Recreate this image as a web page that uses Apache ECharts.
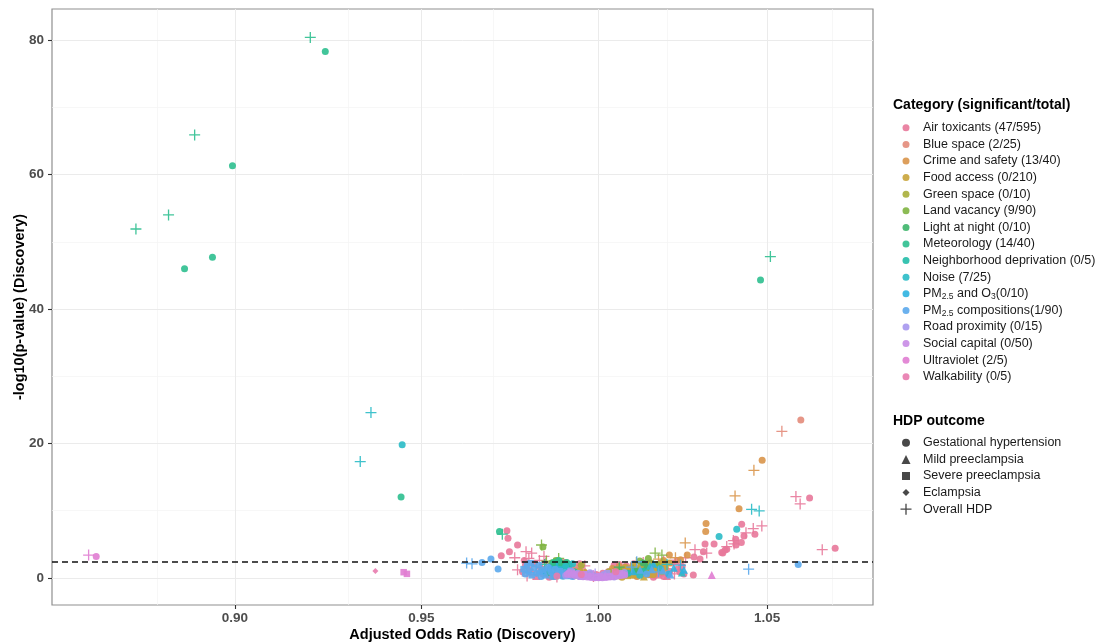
<!DOCTYPE html>
<html><head><meta charset="utf-8">
<script src="https://cdn.jsdelivr.net/npm/echarts@6/dist/echarts.min.js"></script>
<style>html,body{margin:0;padding:0;background:#fff}#c{width:1099px;height:642px}</style>
</head><body><div id="c"></div>
<script>
// ---- Data (x = adjusted OR, y = -log10 p, shape index into outcomes) ----
const categories = ['Air toxicants (47/595)','Blue space (2/25)','Crime and safety (13/40)','Food access (0/210)','Green space (0/10)','Land vacancy (9/90)','Light at night (0/10)','Meteorology (14/40)','Neighborhood deprivation (0/5)','Noise (7/25)','PM2.5 and O3(0/10)','PM2.5 compositions(1/90)','Road proximity (0/15)','Social capital (0/50)','Ultraviolet (2/5)','Walkability (0/5)'];
const colors = ['#E8789A','#E38B7A','#D9954A','#C9A43A','#A9AE3A','#7FB441','#3DB56A','#2DBF8F','#22BDA8','#2ABBC6','#2EB3E0','#5BA8EC','#A697EE','#C88BE6','#E07DD2','#E87BAE'];
const outcomes = ['Gestational hypertension','Mild preeclampsia','Severe preeclampsia','Eclampsia','Overall HDP'];
const xTicks = [0.90, 0.95, 1.00, 1.05];
const yTicks = [0, 20, 40, 60, 80];
const xMinorGrid = [0.875, 0.925, 0.975, 1.025, 1.075];
const yMinorGrid = [10, 30, 50, 70];
const threshold = 2.35;

const airToxicants = [
 [0.9738,7.0,0],[0.9741,5.9,0],[0.9768,4.9,0],[0.9745,3.9,0],[0.9722,3.3,0],[0.9792,3.9,4],[0.9808,3.7,4],[0.9843,3.2,4],[0.9760,3.0,4],[0.9787,2.6,0],
 [1.0313,5.06,0],[1.0340,5.06,0],[1.0378,4.27,0],[1.0406,4.9,0],[1.0366,3.7,0],[1.0308,3.9,0],[1.0280,3.1,0],[1.0298,2.8,0],[1.0283,4.2,4],[1.0318,3.7,4],[1.0398,5.55,4],
 [1.0423,8.0,0],[1.0405,5.76,0],[1.0430,6.25,0],[1.0463,6.5,0],[1.0422,5.25,0],[1.0484,7.74,4],[1.0458,7.34,4],[1.0436,6.7,4],[1.0400,5.06,4],[1.0378,4.66,4],[1.0373,4.17,0],[1.0363,3.77,0],
 [1.0588,12.1,4],[1.0601,11.0,4],[1.0630,11.9,0],[1.0669,4.2,4],[1.0709,4.4,0],
 [1.0230,2.6,0],[1.0255,3.0,4],[1.0190,2.5,4],[0.9830,2.6,4],[0.9800,2.9,4],[0.9768,1.2,4],[1.0278,0.45,0],
 [0.9790,1.8,0],[0.9802,1.2,0],[0.9815,2.1,0],[0.9821,0.9,4],[0.9833,1.5,0],[0.9840,0.6,0],[0.9848,2.2,4],[0.9855,1.1,0],[0.9862,0.4,1],[0.9870,1.7,0],
 [0.9876,0.8,0],[0.9884,2.0,0],[0.9890,1.3,4],[0.9897,0.5,0],[0.9903,1.0,0],[0.9910,1.9,4],[0.9915,0.7,1],[0.9922,1.4,0],[0.9928,0.3,0],[0.9935,1.1,0],
 [0.9941,0.6,4],[0.9948,1.6,0],[0.9955,0.4,0],[0.9962,0.9,1],[0.9970,0.3,0],[0.9978,0.6,0],[0.9985,0.2,4],[0.9993,0.5,0],[1.0005,0.3,0],[1.0012,0.7,0],
 [1.0020,0.4,1],[1.0028,0.9,0],[1.0035,0.5,4],[1.0043,1.2,0],[1.0050,0.7,0],[1.0058,1.5,0],[1.0065,0.4,0],[1.0072,1.0,4],[1.0080,1.8,0],[1.0088,0.6,0],
 [1.0095,1.3,1],[1.0102,2.1,0],[1.0110,0.9,0],[1.0118,1.6,4],[1.0125,0.5,0],[1.0133,1.2,0],[1.0140,2.0,0],[1.0148,0.8,4],[1.0155,1.5,0],[1.0163,0.4,0],
 [1.0170,1.1,0],[1.0178,1.9,4],[1.0185,0.7,0],[1.0193,1.4,0],[1.0200,0.3,1],[1.0208,1.0,0],[1.0215,2.2,0],[1.0222,0.6,4],[1.0230,1.3,0],[1.0238,0.9,0],
 [1.0245,1.7,0],[0.9858,0.1,0],[0.9880,0.15,4],[1.0160,0.1,0],[1.0190,0.2,0],[0.9822,0.3,1],[0.9812,0.5,4],[0.9900,2.3,0],[1.0130,2.3,4],[1.0060,2.0,0],
 [0.9945,2.1,0],[0.9960,1.8,4],[1.0045,1.9,0],[0.9782,0.9,0],[0.9795,0.3,4],[1.0250,0.6,0],[1.0235,2.0,4],[0.9870,0.2,0],[1.0175,0.5,1]
];
const blueSpace = [[1.0603,23.5,0],[1.0545,21.8,4],[0.9870,0.9,0],[1.0090,1.4,0],[1.0150,0.5,0],[0.9930,1.6,0],[1.0180,1.7,1],[0.9840,1.3,0],[1.0060,0.9,4],[1.0110,0.3,0]];
const crimeSafety = [
 [1.0485,17.5,0],[1.0460,16.0,4],[1.0403,12.2,4],[1.0415,10.3,0],[1.0316,8.1,0],[1.0315,6.9,0],[1.0254,5.2,4],[1.0207,3.4,0],[1.0225,3.0,4],[1.0240,2.7,0],[1.0190,2.6,0],[1.0260,3.4,0],[1.0175,2.8,4],
 [1.0050,0.8,0],[1.0070,1.2,1],[1.0082,1.4,1],[1.0090,0.5,0],[1.0105,1.5,1],[1.0120,0.9,0],[1.0135,1.9,0],[1.0060,1.7,0],[1.0148,0.6,1],[1.0165,1.2,0],[1.0040,1.4,0],[1.0112,0.2,0],[1.0128,2.2,1],[1.0155,1.8,0]
];
const foodAccess = [
 [1.0035,0.6,0],[1.0045,1.0,0],[1.0055,0.4,1],[1.0062,1.3,0],[1.0070,0.7,0],[1.0078,1.6,0],[1.0085,0.3,2],[1.0092,1.1,0],[1.0100,1.9,0],[1.0108,0.6,1],
 [1.0115,1.4,0],[1.0123,2.1,0],[1.0130,0.8,0],[1.0138,1.7,4],[1.0145,1.1,0],[1.0153,2.2,0],[1.0160,0.5,0],[1.0168,1.5,1],[1.0176,2.0,0],[1.0185,0.9,0],
 [1.0195,1.6,0],[1.0207,2.2,0],[0.9960,0.8,0],[0.9945,1.0,0],[1.0040,0.2,0],[1.0068,0.1,0],[1.0098,0.4,0],[1.0132,0.2,1],[1.0110,2.3,4],[1.0188,2.3,0]
];
const greenSpace = [[0.9890,1.8,0],[0.9905,2.2,0],[1.0120,1.2,0],[0.9875,0.7,0],[1.0030,0.9,0],[0.9915,1.3,1],[1.0150,2.2,0],[0.9860,1.1,4],[1.0080,0.5,0],[0.9950,1.9,0]];
const landVacancy = [
 [0.9836,4.9,4],[0.9840,4.6,0],[1.0165,3.7,4],[1.0185,3.4,4],[1.0145,2.9,0],[0.9878,2.6,0],[0.9885,2.9,4],[1.0120,2.5,0],[0.9850,2.5,4],
 [0.9880,1.7,0],[0.9900,0.9,0],[1.0100,1.5,1],[1.0140,1.0,0],[0.9865,2.2,0],[1.0060,1.1,0],[1.0170,2.0,0],[0.9920,0.4,0]
];
const lightAtNight = [[0.9875,2.2,0],[0.9890,2.3,0],[0.9900,1.4,0],[1.0130,2.2,0],[1.0140,1.9,1],[0.9860,0.9,0],[1.0110,1.0,0],[0.9930,0.7,0],[1.0060,1.6,4],[0.9915,2.0,0]];
const meteorology = [
 [0.8746,51.9,4],[0.8829,54.0,4],[0.8896,65.9,4],[0.8870,46.0,0],[0.8942,47.7,0],[0.8994,61.3,0],[0.9199,80.4,4],[0.9239,78.3,0],
 [1.0510,47.8,4],[1.0480,44.3,0],[0.9444,12.05,0],[0.9717,6.9,0],[0.9725,6.5,4],[0.9885,2.6,0],
 [0.9870,2.3,0],[0.9895,1.5,0],[0.9905,0.6,1],[0.9880,1.0,1],[0.9912,1.9,0],[0.9860,1.8,1],[0.9898,0.3,0],[0.9920,1.2,1],[0.9850,0.7,0],[0.9890,2.1,4],
 [0.9930,0.9,0],[0.9875,0.4,1],[0.9865,1.4,0],[0.9908,2.3,0],[0.9935,0.5,1],[0.9845,2.0,4],[0.9900,1.1,2],[0.9880,0.7,1]
];
const neighborhood = [[0.9893,1.3,0],[0.9915,0.8,0],[1.0085,0.7,0],[0.9880,1.9,1],[1.0130,1.0,0]];
const noise = [
 [0.9362,24.6,4],[0.9333,17.3,4],[0.9447,19.8,0],[1.0453,10.2,4],[1.0476,9.97,4],[1.0408,7.25,0],[1.0355,6.15,0],
 [0.9885,1.2,0],[0.9905,1.7,0],[1.0150,1.8,1],[1.0180,1.4,0],[1.0244,0.8,1],[0.9870,0.6,0],[1.0120,0.4,0],[1.0200,2.0,4],[0.9925,2.1,0]
];
const pmO3 = [[0.9860,1.4,0],[0.9910,0.5,0],[1.0100,1.0,1],[1.0160,2.1,1],[1.0220,1.5,1],[0.9840,0.9,0],[1.0205,0.6,0],[1.0240,1.9,4],[1.0250,1.2,1],[0.9880,1.6,4]];
const pmComp = [
 [0.9625,2.2,4],[0.9640,2.1,4],[0.9668,2.3,0],[0.9693,2.8,0],[0.9713,1.34,0],
 [0.9795,1.9,0],[0.9800,1.0,0],[0.9808,0.4,2],[0.9815,1.5,0],[0.9822,0.7,0],[0.9828,1.9,2],[0.9835,0.2,0],[0.9842,1.2,0],[0.9848,0.5,1],[0.9855,1.6,0],
 [0.9862,0.9,0],[0.9868,0.2,2],[0.9875,1.3,0],[0.9882,0.6,0],[0.9888,1.0,2],[0.9895,0.3,0],[0.9902,0.8,0],[0.9910,0.4,1],[0.9918,1.1,0],[0.9925,0.2,0],
 [0.9805,2.2,2],[0.9790,0.6,0],[0.9785,1.3,2],[0.9830,1.1,1],
 [1.0111,2.4,4],[1.0121,1.2,1],[1.0155,1.3,1],[1.0188,1.1,1],[1.0140,0.6,0],[1.0175,0.9,4],[1.0210,0.5,1],[1.0096,1.6,4],
 [1.0595,2.0,0],[1.0444,1.3,4]
];
const roadProximity = [[0.9940,0.7,0],[0.9965,0.45,0],[0.9985,0.2,0],[1.0008,0.3,0],[1.0030,0.4,1],[1.0052,0.6,0],[0.9920,0.95,2],[1.0075,0.8,0],[0.9990,0.6,4],[1.0015,0.5,0],[0.9950,0.3,1],[1.0045,0.15,0],[0.9975,0.75,0],[1.0025,0.7,2],[0.9905,0.35,0]];
const socialCapital = [
 [0.9910,0.55,0],[0.9915,0.75,0],[0.9920,0.45,0],[0.9926,0.62,0],[0.9932,0.35,0],[0.9938,0.52,0],[0.9944,0.28,0],[0.9950,0.42,0],[0.9955,0.18,0],[0.9961,0.33,0],
 [0.9967,0.12,0],[0.9972,0.25,0],[0.9978,0.06,0],[0.9983,0.16,0],[0.9989,0.03,0],[0.9994,0.10,0],[1.0000,0.01,0],[1.0005,0.08,0],[1.0011,0.03,0],[1.0016,0.14,0],
 [1.0022,0.07,0],[1.0027,0.20,0],[1.0033,0.12,0],[1.0038,0.28,0],[1.0044,0.20,0],[1.0049,0.36,0],[1.0055,0.28,0],[1.0060,0.45,0],[1.0066,0.36,0],[1.0071,0.55,0],
 [1.0076,0.45,0],[0.9997,0.20,1],[1.0003,0.25,2],[0.9985,0.35,4],[1.0019,0.35,1],[0.9958,0.55,2],[1.0040,0.50,4],[0.9930,0.80,1],[1.0062,0.70,2],[0.9975,0.40,3]
];
const ultraviolet = [[0.8627,3.4,4],[0.8646,3.17,0],[0.9451,0.85,2],[0.9460,0.6,2],[1.0333,0.45,1]];
const walkability = [[0.9374,1.04,3],[0.9950,0.5,0],[1.0050,0.9,0],[0.9880,0.3,0]];

const categoryData = [airToxicants, blueSpace, crimeSafety, foodAccess, greenSpace, landVacancy, lightAtNight, meteorology, neighborhood, noise, pmO3, pmComp, roadProximity, socialCapital, ultraviolet, walkability];

// ---- Styling ----
const PLUS = 'path://M4.4,0H5.6V4.4H10V5.6H5.6V10H4.4V5.6H0V4.4H4.4Z';
const shapeSymbols = ['circle','triangle','rect','diamond',PLUS];
const shapeSizes = [7,8,6.5,6,11];
const legendShapeSizes = [8,9,8,7,11];
const FONT = 'Liberation Sans, Arial, sans-serif';

const series = categories.map((name, i) => ({
  name, type: 'scatter', data: categoryData[i],
  symbol: v => shapeSymbols[v[2]],
  symbolSize: v => shapeSizes[v[2]],
  itemStyle: { color: colors[i], opacity: 0.9 },
  emphasis: { disabled: true }, z: 3
}));
outcomes.forEach((name, k) => series.push({
  name, type: 'scatter', data: [], symbol: shapeSymbols[k], itemStyle: { color: '#1a1a1a' }
}));
const gridLine = (axis, v, major) => ({ [axis]: v, lineStyle: { color: major ? '#ebebeb' : '#f3f3f3', width: major ? 1 : 0.7, type: 'solid' } });
series.push({
  name: '_grid', type: 'scatter', data: [], z: 0, silent: true,
  markLine: {
    silent: true, symbol: 'none', label: { show: false }, animation: false, z: 0,
    data: [
      ...xMinorGrid.map(v => gridLine('xAxis', v, false)),
      ...yMinorGrid.map(v => gridLine('yAxis', v, false)),
      ...xTicks.map(v => gridLine('xAxis', v, true)),
      ...yTicks.map(v => gridLine('yAxis', v, true))
    ]
  }
});
series.push({
  name: '_thr', type: 'scatter', data: [], z: 4, silent: true,
  markLine: {
    silent: true, symbol: 'none', label: { show: false }, animation: false,
    data: [{ yAxis: threshold, lineStyle: { color: '#111', width: 1.6, type: [6, 4] } }]
  }
});

const rich = {
  n: { fontSize: 12.5, fontFamily: FONT, color: '#1a1a1a', lineHeight: 16.6, verticalAlign: 'middle', padding: [0, 0, 0, 0] },
  p: { fontSize: 12.5, fontFamily: FONT, color: '#1a1a1a', lineHeight: 16.6, verticalAlign: 'middle', padding: [0, 0, 0, 8.5] },
  s: { fontSize: 8.5, fontFamily: FONT, color: '#1a1a1a', lineHeight: 16.6, verticalAlign: 'bottom', padding: [0, 0, 1, 0] }
};
const legendFmt = name => {
  if (name === 'PM2.5 and O3(0/10)') return '{p|PM}{s|2.5}{n| and O}{s|3}{n|(0/10)}';
  if (name === 'PM2.5 compositions(1/90)') return '{p|PM}{s|2.5}{n| compositions(1/90)}';
  return '{p|' + name + '}';
};

const option = {
  animation: false,
  backgroundColor: '#fff',
  textStyle: { fontFamily: FONT },
  title: [
    { text: 'Category (significant/total)', left: 893, top: 98, padding: 0, textStyle: { fontSize: 14, fontWeight: 'bold', color: '#000', fontFamily: FONT } },
    { text: 'HDP outcome', left: 893, top: 414, padding: 0, textStyle: { fontSize: 14, fontWeight: 'bold', color: '#000', fontFamily: FONT } }
  ],
  legend: [
    { data: categories.map(n => ({ name: n, icon: 'circle' })), orient: 'vertical', left: 902.5, top: 119.5, padding: 0,
      itemWidth: 7, itemHeight: 7, itemGap: 0, formatter: legendFmt, selectedMode: false,
      textStyle: { fontSize: 12.5, color: '#1a1a1a', fontFamily: FONT, lineHeight: 16.6, rich } },
    ...outcomes.map((n, k) => ({
      data: [{ name: n, icon: shapeSymbols[k] }], orient: 'vertical', padding: 0,
      left: 906 - legendShapeSizes[k] / 2, top: 434.5 + k * 16.6,
      itemWidth: legendShapeSizes[k], itemHeight: legendShapeSizes[k], selectedMode: false,
      formatter: nm => '{q|' + nm + '}',
      textStyle: { fontSize: 12.5, color: '#1a1a1a', fontFamily: FONT, lineHeight: 16.6,
        rich: { q: { fontSize: 12.5, fontFamily: FONT, color: '#1a1a1a', lineHeight: 16.6, padding: [0, 0, 0, 12 - legendShapeSizes[k] / 2] } } }
    }))
  ],
  grid: { left: 52, right: 226, top: 9, bottom: 37, show: true, borderColor: '#8f8f8f', borderWidth: 1.2, backgroundColor: 'transparent', containLabel: false, outerBoundsMode: 'none' },
  xAxis: {
    type: 'log', logBase: 10, min: 0.8536, max: 1.0827,
    name: 'Adjusted Odds Ratio (Discovery)', nameLocation: 'middle', nameGap: 22, nameMoveOverlap: false,
    nameTextStyle: { fontSize: 14.5, fontWeight: 'bold', color: '#000', fontFamily: FONT },
    axisLine: { show: false, onZero: false },
    axisTick: { show: true, length: 4, lineStyle: { color: '#333', width: 1.1 }, customValues: xTicks },
    axisLabel: { customValues: xTicks, formatter: v => Number(v).toFixed(2), fontSize: 13.5, fontWeight: 'bold', color: '#4d4d4d', margin: 6, fontFamily: FONT },
    splitLine: { show: false }, minorSplitLine: { show: false }
  },
  yAxis: {
    type: 'value', min: -4.03, max: 84.63,
    name: '-log10(p-value) (Discovery)', nameLocation: 'middle', nameGap: 25, nameRotate: 90, nameMoveOverlap: false,
    nameTextStyle: { fontSize: 14.5, fontWeight: 'bold', color: '#000', fontFamily: FONT },
    axisLine: { show: false, onZero: false },
    axisTick: { show: true, length: 4, lineStyle: { color: '#333', width: 1.1 }, customValues: yTicks },
    axisLabel: { customValues: yTicks, formatter: v => String(Math.round(v)), fontSize: 13.5, fontWeight: 'bold', color: '#4d4d4d', margin: 8, fontFamily: FONT },
    splitLine: { show: false }
  },
  series
};
const chart = echarts.init(document.getElementById('c'), null, { renderer: 'canvas' });
chart.setOption(option);
</script>
</body></html>
